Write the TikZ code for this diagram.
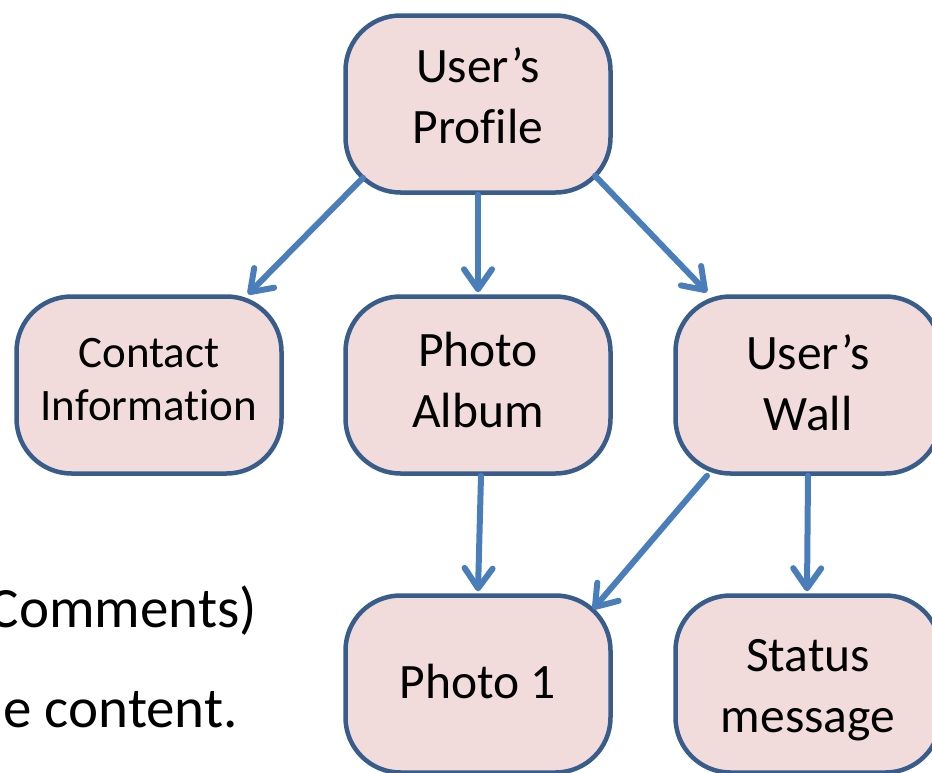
\documentclass[tikz,border=0pt]{standalone}
\usepackage{fontspec}
\setmainfont{Carlito}[Ligatures=NoCommon]
\usetikzlibrary{arrows.meta}
\definecolor{boxfill}{HTML}{F2DCDB}
\definecolor{boxline}{HTML}{385D8A}
\definecolor{linkline}{HTML}{4A7EBB}
\tikzset{
  box/.style={draw=boxline, fill=boxfill, line width=4.5pt, rounded corners=55pt,
    minimum width=265pt, minimum height=177pt, align=center, inner sep=0pt, text=black,
    font=\fontsize{49.5}{61}\selectfont, text depth=0pt},
  smalltext/.style={font=\fontsize{45}{53}\selectfont},
  % text height = twice the drop of the last baseline below the box centre
  lastbase/.style={text height=#1},
  link/.style={draw=linkline, line width=6pt, line cap=round,
    -{Straight Barb[length=20pt, width=28pt, line cap=round, line join=round]}},
  sidetext/.style={font=\fontsize{57}{68}\selectfont, anchor=base east, inner sep=0pt},
}
\begin{document}
\begin{tikzpicture}[x=1pt, y=1pt]
\useasboundingbox (0,0) rectangle (932,-772);

% profile tree
\node[box, lastbase=78pt]            (prof)    at (478,-104) {User’s\\Profile};
\node[box, smalltext, lastbase=70pt] (contact) at (149,-385) {Contact\\Information};
\node[box, lastbase=84pt]            (album)   at (478,-385) {Photo\\Album};
\node[box, lastbase=90pt]            (wall)    at (808,-385) {User’s\\Wall};
\node[box, lastbase=28pt]            (photo)   at (478,-684) {Photo 1};
\node[box, lastbase=96pt]            (status)  at (808,-684) {Status\\message};

% links between the pages
\draw[link] ([shift={(-115,17)}]prof.south) -- ([shift={(99,0)}]contact.north);
\draw[link] (prof.south) -- ([yshift=2]album.north);
\draw[link] ([shift={(117,19)}]prof.south) -- ([shift={(-101,2)}]wall.north);
\draw[link] ([xshift=3]album.south) -- ([yshift=2]photo.north);
\draw[link] ([xshift=-101]wall.south) -- ([shift={(115,-16)}]photo.north);
\draw[link] (wall.south) -- ([shift={(-1,2)}]status.north);

% slide text on the left
\node[sidetext] (cmt) at (257,-627) {Comments)};
\node[sidetext] (cnt) at (238,-727) {e content.};
\end{tikzpicture}
\end{document}
